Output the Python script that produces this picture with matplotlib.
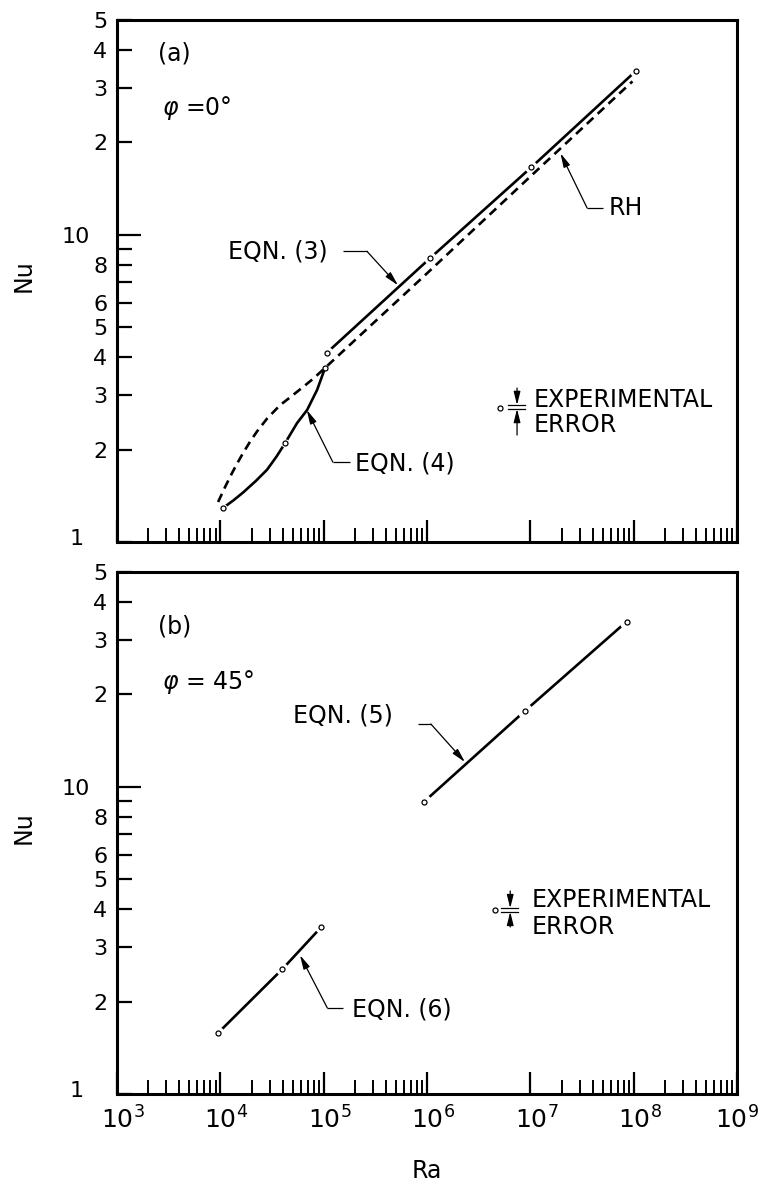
import matplotlib
matplotlib.use("Agg")
import matplotlib.pyplot as plt
import matplotlib.transforms as mtransforms
from matplotlib.ticker import FixedLocator, FuncFormatter, NullFormatter

# ---------------- data ----------------
# panel (a)  phi = 0 deg
ra_eqn3 = [1.07e5, 1.07e6, 1.02e7, 1.05e8]
nu_eqn3 = [4.13, 8.4, 16.6, 34.2]

ra_eqn4 = [1.06e4, 1.35e4, 1.66e4, 2.2e4, 2.83e4, 3.5e4, 4.23e4, 5.52e4, 6.9e4, 8.63e4, 1.03e5]
nu_eqn4 = [1.29, 1.37, 1.45, 1.58, 1.72, 1.90, 2.10, 2.44, 2.69, 3.13, 3.69]
ra_eqn4_pts = [1.06e4, 4.23e4, 1.03e5]
nu_eqn4_pts = [1.29, 2.10, 3.69]

ra_rh = [9.5e3, 1.12e4, 1.3e4, 1.45e4, 1.66e4, 1.95e4, 2.26e4, 2.82e4, 3.78e4,
         4.8e4, 5.9e4, 7.9e4, 1.03e5, 1.0e6, 1.0e7, 9.7e7]
nu_rh = [1.35, 1.52, 1.68, 1.80, 1.95, 2.13, 2.29, 2.52, 2.79,
         2.97, 3.14, 3.40, 3.69, 7.5, 15.5, 31.6]

# panel (b)  phi = 45 deg
ra_eqn5 = [9.3e5, 8.9e6, 8.5e7]
nu_eqn5 = [8.93, 17.7, 34.5]
ra_eqn6 = [9.5e3, 3.98e4, 9.5e4]
nu_eqn6 = [1.58, 2.55, 3.50]

# axes ticks
x_major = [1e3, 1e4, 1e5, 1e6, 1e7, 1e8, 1e9]
x_major_labels = ["$10^{3}$", "$10^{4}$", "$10^{5}$", "$10^{6}$",
                  "$10^{7}$", "$10^{8}$", "$10^{9}$"]
x_minor_decades = [1e3, 1e4, 1e5, 1e7, 1e8]
y_major = [10]
y_minor = [1, 2, 3, 4, 5, 6, 7, 8, 9, 20, 30, 40, 50]
y_labels = {1: "1", 2: "2", 3: "3", 4: "4", 5: "5", 6: "6", 8: "8",
            10: "10", 20: "2", 30: "3", 40: "4", 50: "5"}

plt.rcParams["font.family"] = ["DejaVu Sans"]
plt.rcParams["mathtext.fontset"] = "dejavusans"

fig = plt.figure(figsize=(7.6, 11.86), dpi=100)
ax_a = fig.add_axes([0.154, 0.543, 0.816, 0.440])
ax_b = fig.add_axes([0.154, 0.0776, 0.816, 0.440])

x_minor = [k * d for d in x_minor_decades for k in range(2, 10)]
ANN_FS = 17


def style_axes(ax, show_xlabels):
    ax.set_xscale("log")
    ax.set_yscale("log")
    ax.set_xlim(1e3, 1e9)
    ax.set_ylim(1, 50)
    for sp in ax.spines.values():
        sp.set_linewidth(2.2)
    ax.xaxis.set_major_locator(FixedLocator(x_major))
    ax.xaxis.set_minor_locator(FixedLocator(x_minor))
    ax.xaxis.set_minor_formatter(NullFormatter())
    if show_xlabels:
        ax.set_xticks(x_major, x_major_labels)
    else:
        ax.xaxis.set_major_formatter(NullFormatter())
    ax.yaxis.set_major_locator(FixedLocator(y_major))
    ax.yaxis.set_minor_locator(FixedLocator(y_minor))
    fmt = FuncFormatter(lambda v, p: y_labels.get(int(round(v)), ""))
    ax.yaxis.set_major_formatter(fmt)
    ax.yaxis.set_minor_formatter(fmt)
    ax.tick_params(axis="x", which="major", direction="in", length=16,
                   width=1.6, top=False, labelsize=18, pad=9)
    ax.tick_params(axis="x", which="minor", direction="in", length=10,
                   width=1.4, top=False)
    ax.tick_params(axis="y", which="major", direction="in", length=17,
                   width=1.6, right=False, labelsize=16, pad=7)
    ax.tick_params(axis="y", which="minor", direction="in", length=11,
                   width=1.6, right=False, labelsize=16, pad=7)
    ax.set_ylabel("Nu", fontsize=17)
    ax.yaxis.set_label_coords(-0.132, 0.51)

    # individual label offsets as in the original drawing
    for t in ax.yaxis.get_major_ticks():
        t.label1.set_transform(t.label1.get_transform() +
                               mtransforms.ScaledTranslation(-0.17, 0.0, fig.dpi_scale_trans))
    locs = ax.yaxis.get_minorticklocs()
    mts = ax.yaxis.get_minor_ticks(len(locs))
    for t, loc in zip(mts, locs):
        if abs(loc - 1) < 1e-9:
            t.label1.set_transform(t.label1.get_transform() +
                                   mtransforms.ScaledTranslation(-0.24, 0.05, fig.dpi_scale_trans))
    if show_xlabels:
        xt = ax.xaxis.get_major_ticks(len(x_major))
        for t in xt[:-1]:
            t.label1.set_transform(t.label1.get_transform() +
                                   mtransforms.ScaledTranslation(0.06, 0.0, fig.dpi_scale_trans))


def circles(ax, xs, ys, mask=9):
    if mask > 0:
        ax.plot(xs, ys, ls="none", marker="o", ms=mask, mfc="white", mec="none", zorder=3)
    ax.plot(xs, ys, ls="none", marker="o", ms=3.6, mfc="white", mec="black",
            mew=0.9, zorder=6)


def leader(ax, text, txy, start, elbow, tip):
    ax.text(txy[0], txy[1], text, transform=ax.transAxes, ha="left", va="center",
            fontsize=ANN_FS)
    ax.plot([start[0], elbow[0]], [start[1], elbow[1]], transform=ax.transAxes,
            color="black", lw=0.9, solid_capstyle="butt")
    ax.annotate("", xy=tip, xycoords="axes fraction", xytext=elbow,
                textcoords="axes fraction",
                arrowprops=dict(arrowstyle="-|>,head_length=0.7,head_width=0.17",
                                lw=0.9, color="black", shrinkA=0, shrinkB=0,
                                mutation_scale=12))


def exp_error(ax, cxy, x0, x1, y_hi, y_lo, xa, top_from, bot_from, txt_x, ty1, ty2):
    ax.plot([cxy[0]], [cxy[1]], transform=ax.transAxes, marker="o", ms=3.6,
            mfc="white", mec="black", mew=0.9, ls="none")
    for yy in (y_hi, y_lo):
        ax.plot([x0, x1], [yy, yy], transform=ax.transAxes, color="black", lw=0.9)
    for frm, to in ((top_from, y_hi), (bot_from, y_lo)):
        ax.annotate("", xy=(xa, to), xycoords="axes fraction", xytext=(xa, frm),
                    textcoords="axes fraction",
                    arrowprops=dict(arrowstyle="-|>,head_length=0.8,head_width=0.2",
                                    lw=0.9, color="black", shrinkA=0, shrinkB=0,
                                    mutation_scale=10))
    ax.text(txt_x, ty1, "EXPERIMENTAL", transform=ax.transAxes, ha="left",
            va="center", fontsize=ANN_FS)
    ax.text(txt_x, ty2, "ERROR", transform=ax.transAxes, ha="left",
            va="center", fontsize=ANN_FS)


style_axes(ax_a, False)
style_axes(ax_b, True)
ax_b.set_xlabel("Ra", fontsize=17)
ax_b.xaxis.set_label_coords(0.5, -0.125)
ax_b.xaxis.label.set_va("top")

# ---- panel (a) ----
ax_a.plot(ra_eqn3, nu_eqn3, color="black", lw=1.9, zorder=2)
ax_a.plot(ra_eqn4, nu_eqn4, color="black", lw=1.9, zorder=2)
circles(ax_a, ra_eqn3, nu_eqn3, mask=9)
circles(ax_a, ra_eqn4_pts[:2], nu_eqn4_pts[:2], mask=6)
ax_a.plot(ra_rh, nu_rh, color="black", lw=1.9, ls=(0, (3.4, 2.2)), zorder=5)
circles(ax_a, ra_eqn4_pts[2:], nu_eqn4_pts[2:], mask=0)

ax_a.text(0.066, 0.937, "(a)", transform=ax_a.transAxes, ha="left", va="center",
          fontsize=ANN_FS)
ax_a.text(0.073, 0.831, r"$\varphi$ =0°", transform=ax_a.transAxes, ha="left",
          va="center", fontsize=ANN_FS)
leader(ax_a, "EQN. (3)", (0.179, 0.557), (0.3645, 0.557), (0.403, 0.557), (0.453, 0.492))
leader(ax_a, "RH", (0.792, 0.640), (0.784, 0.640), (0.758, 0.640), (0.715, 0.745))
leader(ax_a, "EQN. (4)", (0.384, 0.151), (0.376, 0.153), (0.348, 0.153), (0.306, 0.253))
exp_error(ax_a, (0.618, 0.257), 0.631, 0.658, 0.2625, 0.255, 0.645,
          0.295, 0.205, 0.671, 0.272, 0.224)

# ---- panel (b) ----
ax_b.plot(ra_eqn5, nu_eqn5, color="black", lw=1.9, zorder=2)
ax_b.plot(ra_eqn6, nu_eqn6, color="black", lw=1.9, zorder=2)
circles(ax_b, ra_eqn5, nu_eqn5, mask=11)
circles(ax_b, ra_eqn6, nu_eqn6, mask=9)

ax_b.text(0.066, 0.895, "(b)", transform=ax_b.transAxes, ha="left", va="center",
          fontsize=ANN_FS)
ax_b.text(0.073, 0.789, r"$\varphi$ = 45°", transform=ax_b.transAxes, ha="left",
          va="center", fontsize=ANN_FS)
leader(ax_b, "EQN. (5)", (0.284, 0.726), (0.485, 0.709), (0.506, 0.709), (0.561, 0.636))
leader(ax_b, "EQN. (6)", (0.379, 0.161), (0.3645, 0.165), (0.339, 0.165), (0.295, 0.266))
exp_error(ax_b, (0.610, 0.3525), 0.619, 0.647, 0.356, 0.349, 0.634,
          0.389, 0.320, 0.669, 0.372, 0.320)

fig.savefig("out.png", dpi=100)
